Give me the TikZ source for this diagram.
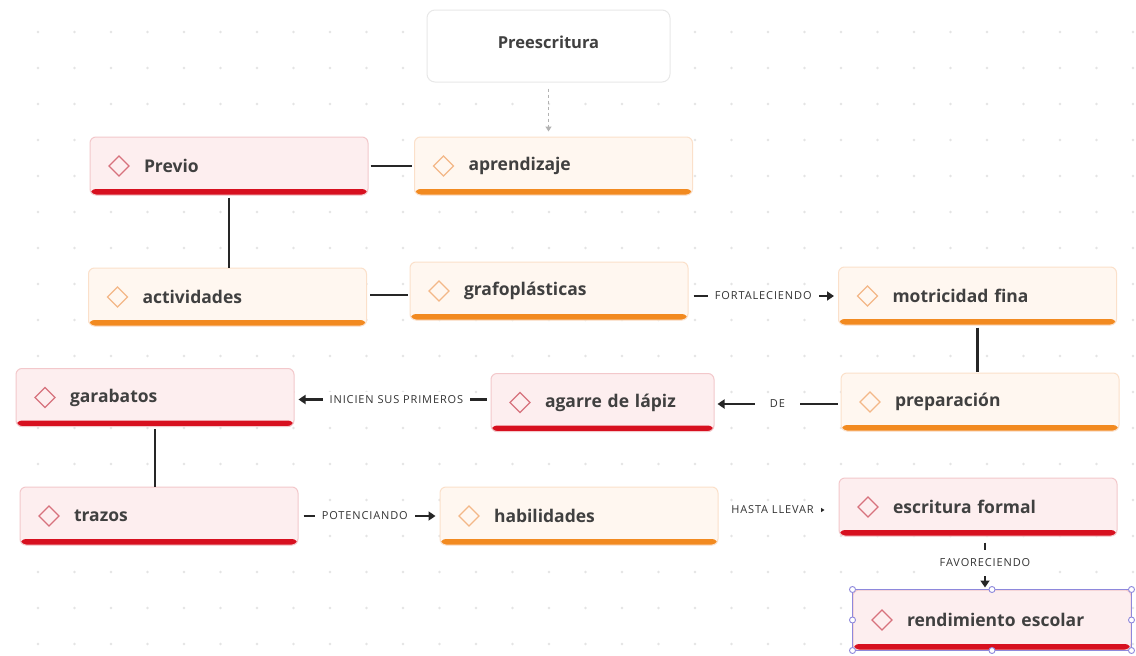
\documentclass[tikz,border=0pt]{standalone}
\usepackage{fontspec}
\setmainfont{Open Sans}
\newfontfamily\labfont{Open Sans}[LetterSpace=8]
\usetikzlibrary{arrows.meta,calc}
\definecolor{rfill}{HTML}{FDEEEF}
\definecolor{rborder}{HTML}{F3C8CB}
\definecolor{rbar}{HTML}{D7101F}
\definecolor{rdia}{HTML}{D7727D}
\definecolor{ofill}{HTML}{FFF7F0}
\definecolor{oborder}{HTML}{FBE0CA}
\definecolor{obar}{HTML}{F28A20}
\definecolor{odia}{HTML}{F3B888}
\definecolor{txt}{HTML}{404040}
\definecolor{lnk}{HTML}{262626}
\definecolor{labtxt}{HTML}{333333}
\definecolor{griddot}{HTML}{E4E4E4}
\definecolor{selc}{HTML}{8E88DC}
\newcommand\bxdeco[2]{%
  \fill[#1] ([yshift=6pt]path picture bounding box.south west) rectangle (path picture bounding box.south east);
  \draw[#2, line width=1.2pt, sharp corners] ([xshift=19pt]path picture bounding box.west) -- ++(10pt,10pt) -- ++(10pt,-10pt) -- ++(-10pt,-10pt) -- cycle;}
\tikzset{
  box/.style={rounded corners=6pt, minimum height=58pt, inner xsep=10pt, inner ysep=0pt,
    text width=258pt, align=left, font=\bfseries\fontsize{17.5}{20}\selectfont, text=txt, line width=1pt},
  redbox/.style={box, draw=rborder, fill=rfill, path picture={\bxdeco{rbar}{rdia}}},
  orbox/.style={box, draw=oborder, fill=ofill, path picture={\bxdeco{obar}{odia}}},
  prebox/.style={rounded corners=8pt, draw=black!9, fill=white, line width=1pt,
    minimum width=243pt, minimum height=72pt, font=\bfseries\fontsize{16.5}{19}\selectfont, text=txt},
  conn/.style={draw=lnk, line width=2.8pt},
  arr/.style={draw=lnk, line width=2.3pt, -{Triangle[width=9pt,length=7pt]}},
  lab/.style={fill=white, font=\labfont\fontsize{11}{13}\selectfont, text=labtxt, inner xsep=7pt, inner ysep=3pt},
  handle/.style={circle, draw=selc, fill=white, line width=0.9pt, inner sep=0pt, minimum size=6pt},
}
\begin{document}
\begin{tikzpicture}[x=1pt,y=-1pt]
\useasboundingbox (0,0) rectangle (1136,656);
\fill[white] (0,0) rectangle (1136,656);
% dot grid
\foreach \i in {0,...,30} {
  \foreach \j in {0,...,17} {
    \fill[griddot] ({38+36.5*\i},{32+36*\j}) circle (1.3pt);
  }
}
% nodes
\node[prebox] (pre) at (548.5,46) {\raisebox{8pt}{Preescritura}};
\node[redbox] (previo) at (229,166) {\hspace*{44pt}Previo};
\node[orbox] (aprend) at (553.5,166) {\hspace*{44pt}aprendizaje};
\node[orbox] (activ) at (227.5,297) {\hspace*{44pt}actividades};
\node[orbox] (grafo) at (549,291) {\hspace*{44pt}grafoplásticas};
\node[orbox] (motric) at (977.5,296) {\hspace*{44pt}motricidad fina};
\node[orbox] (prep) at (980,402) {\hspace*{44pt}preparación};
\node[redbox, text width=203pt] (agarre) at (602.5,402.5) {\hspace*{44pt}agarre de lápiz};
\node[redbox] (garab) at (155,397.5) {\hspace*{44pt}garabatos};
\node[redbox] (trazos) at (159,516) {\hspace*{44pt}trazos};
\node[orbox] (habil) at (579,516) {\hspace*{44pt}habilidades};
\node[redbox] (escrit) at (978,507) {\hspace*{44pt}escritura formal};
\node[redbox, minimum height=60pt] (rend) at (992,620) {\hspace*{44pt}rendimiento escolar};
% selection frame
\draw[selc, line width=1pt] (rend.north west) rectangle (rend.south east);
\foreach \a in {north west,north,north east,east,south east,south,south west,west}
  \node[handle] at (rend.\a) {};
% helper coordinates
\coordinate (ag1) at ($(activ.east)+(0,-2)$);
\coordinate (ag2) at (ag1 -| grafo.west);
\coordinate (de1) at ($(prep.west)+(0,2)$);
\coordinate (de2) at (de1 -| agarre.east);
\coordinate (in1) at ($(agarre.west)+(0,-3)$);
\coordinate (in2) at (in1 -| garab.east);
\coordinate (hl1) at ($(habil.east)+(0,-6)$);
\coordinate (hl2) at (hl1 -| escrit.west);
\coordinate (fv1) at ($(escrit.south)+(7,0)$);
\coordinate (fv2) at (fv1 |- rend.north);
\coordinate (ft1) at (grafo.east |- motric.west);
\coordinate (pt2) at (trazos.east -| habil.west);
% connectors
\draw[black!30, line width=1.2pt, dashed, -{Triangle[width=6pt,length=5pt]}, shorten <=6pt, shorten >=5pt] (pre.south) -- (pre.south |- aprend.north);
\draw[conn, shorten <=2pt, shorten >=2pt] (previo.east) -- (aprend.west);
\draw[conn, shorten <=2pt] (previo.south) -- (previo.south |- activ.north);
\draw[conn, shorten <=3pt, shorten >=2pt] (ag1) -- (ag2);
\draw[arr, shorten <=5pt, shorten >=4pt] (ft1) -- node[lab] {FORTALECIENDO} (motric.west);
\draw[conn, shorten <=2pt, shorten >=1pt] (motric.south) -- (motric.south |- prep.north);
\draw[arr, shorten <=3pt, shorten >=3pt] (de1) -- node[lab, inner xsep=15pt] {DE} (de2);
\draw[arr, shorten <=4pt, shorten >=4pt] (in1) -- node[lab, pos=0.48] {INICIEN SUS PRIMEROS} (in2);
\draw[conn, shorten <=2pt] (garab.south) -- (garab.south |- trazos.north);
\draw[arr, shorten <=5pt, shorten >=4pt] (trazos.east) -- node[lab, pos=0.47] {POTENCIANDO} (pt2);
\draw[arr, line width=1.6pt, -{Triangle[width=6pt,length=5pt]}, shorten <=10pt, shorten >=14pt] (hl1) -- node[lab, pos=0.45] {HASTA LLEVAR} (hl2);
\draw[arr, shorten <=6pt, shorten >=2pt] (fv1) -- node[lab, inner ysep=9pt] {FAVORECIENDO} (fv2);
\end{tikzpicture}
\end{document}
